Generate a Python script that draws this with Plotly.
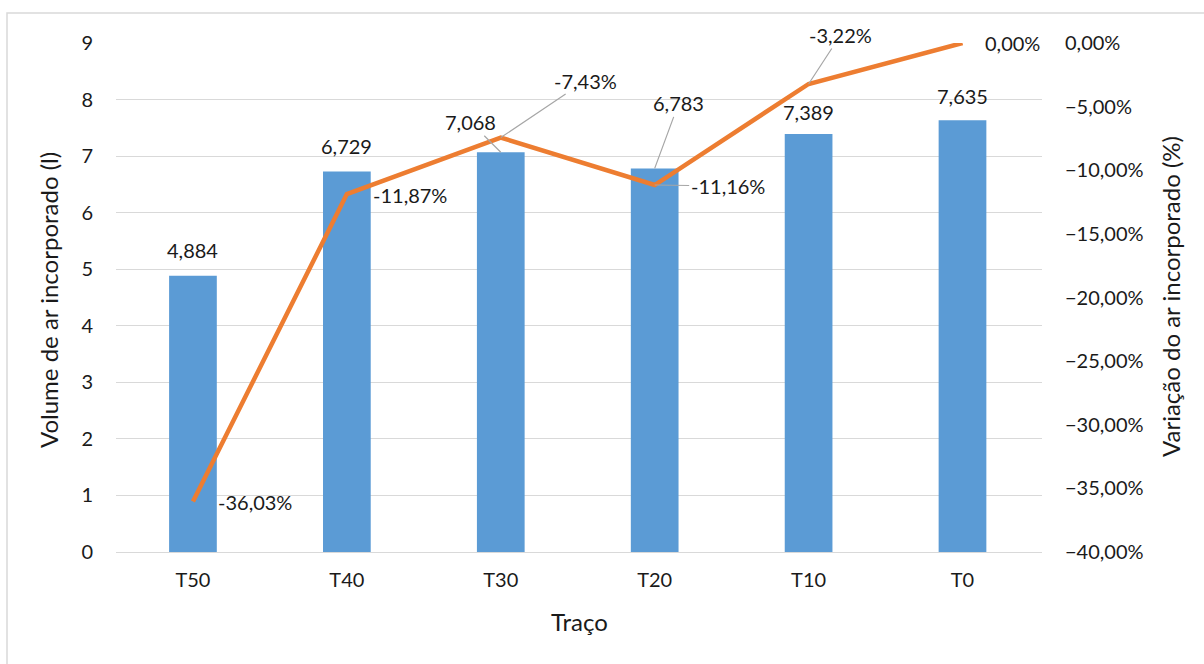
import plotly.graph_objects as go

categories = ["T50", "T40", "T30", "T20", "T10", "T0"]
volume = [4.884, 6.729, 7.068, 6.783, 7.389, 7.635]
variation = [-0.3603, -0.1187, -0.0743, -0.1116, -0.0322, 0.0]

FONT = "Lato"
TXT = "#1a1a1a"
GRID = "#D9D9D9"
FS = 20
FT = 24

W, H = 1204, 664
ML, MR, MT, MB = 116, 162, 43, 112
PW, PH = W - ML - MR, H - MT - MB


def px_x(p):
    return (p - ML) / PW


def px_y(p):
    return (H - MB - p) / PH


fig = go.Figure()
fig.add_trace(go.Bar(x=categories, y=volume, marker=dict(color="#5B9BD5", line=dict(width=0)),
                     name="Volume", yaxis="y"))
fig.add_trace(go.Scatter(x=categories, y=variation, mode="lines",
                         line=dict(color="#ED7D31", width=4.5), name="Variação", yaxis="y2"))

fmt_num = lambda v: f"{v:.3f}".replace(".", ",")
fmt_pct = lambda v: f"{v*100:.2f}%".replace(".", ",")

ann = []
bar_lab = {
    0: dict(showarrow=False, yshift=26),
    1: dict(showarrow=False, yshift=25),
    2: dict(showarrow=True, ax=-30, ay=-30),
    3: dict(showarrow=True, ax=24, ay=-65),
    4: dict(showarrow=False, yshift=22),
    5: dict(showarrow=False, yshift=24),
}
for i, (c, v) in enumerate(zip(categories, volume)):
    a = dict(x=c, y=v, xref="x", yref="y", text=fmt_num(v),
             font=dict(family=FONT, size=FS, color=TXT),
             arrowhead=0, arrowwidth=1.2, arrowcolor="#A6A6A6", standoff=0, startstandoff=0)
    a.update(bar_lab[i])
    ann.append(a)

line_lab = {
    0: dict(showarrow=False, xshift=62, yshift=-1),
    1: dict(showarrow=False, xshift=63, yshift=-1),
    2: dict(showarrow=True, ax=85, ay=-57),
    3: dict(showarrow=True, ax=73, ay=1),
    4: dict(showarrow=True, ax=32, ay=-49),
    5: dict(showarrow=False, xshift=50, yshift=0),
}
for i, (c, v) in enumerate(zip(categories, variation)):
    a = dict(x=c, y=v, xref="x", yref="y2", text=fmt_pct(v),
             font=dict(family=FONT, size=FS, color=TXT),
             arrowhead=0, arrowwidth=1.2, arrowcolor="#A6A6A6", standoff=0, startstandoff=0)
    a.update(line_lab[i])
    ann.append(a)

ann.append(dict(x=px_x(48), y=px_y(300), xref="paper", yref="paper", text="Volume de ar incorporado (l)",
                textangle=-90, showarrow=False, xanchor="center", yanchor="middle",
                font=dict(family=FONT, size=FT, color=TXT)))
ann.append(dict(x=px_x(1170), y=px_y(297), xref="paper", yref="paper", text="Variação do ar incorporado (%)",
                textangle=-90, showarrow=False, xanchor="center", yanchor="middle",
                font=dict(family=FONT, size=FT, color=TXT)))
ann.append(dict(x=0.5, y=px_y(621), xref="paper", yref="paper", text="Traço",
                showarrow=False, xanchor="center", yanchor="middle",
                font=dict(family=FONT, size=FT, color=TXT)))

fig.update_layout(
    width=W, height=H,
    margin=dict(l=ML, r=MR, t=MT, b=MB, pad=0),
    paper_bgcolor="white", plot_bgcolor="white",
    separators=",.",
    showlegend=False,
    bargap=0.69,
    font=dict(family=FONT, size=FS, color=TXT),
    xaxis=dict(showgrid=False, showline=False, ticks="", ticklabelstandoff=14,
               tickfont=dict(family=FONT, size=FS, color=TXT)),
    yaxis=dict(range=[0, 9], dtick=1, showgrid=True, gridcolor=GRID, gridwidth=1.2,
               zeroline=True, zerolinecolor=GRID, zerolinewidth=1.2, showline=False, ticks="",
               ticklabelstandoff=22, tickfont=dict(family=FONT, size=FS, color=TXT)),
    yaxis2=dict(range=[-0.40, 0], dtick=0.05, tickformat=".2%", overlaying="y", side="right",
                showgrid=False, zeroline=False, showline=False, ticks="", ticklabelstandoff=22,
                tickfont=dict(family=FONT, size=FS, color=TXT)),
    annotations=ann,
    shapes=[dict(type="rect", xref="paper", yref="paper",
                 x0=px_x(7), x1=px_x(1212), y0=px_y(672), y1=px_y(13),
                 line=dict(color=GRID, width=1.5), fillcolor="rgba(0,0,0,0)", layer="below")],
)

fig.write_html("out.html")
